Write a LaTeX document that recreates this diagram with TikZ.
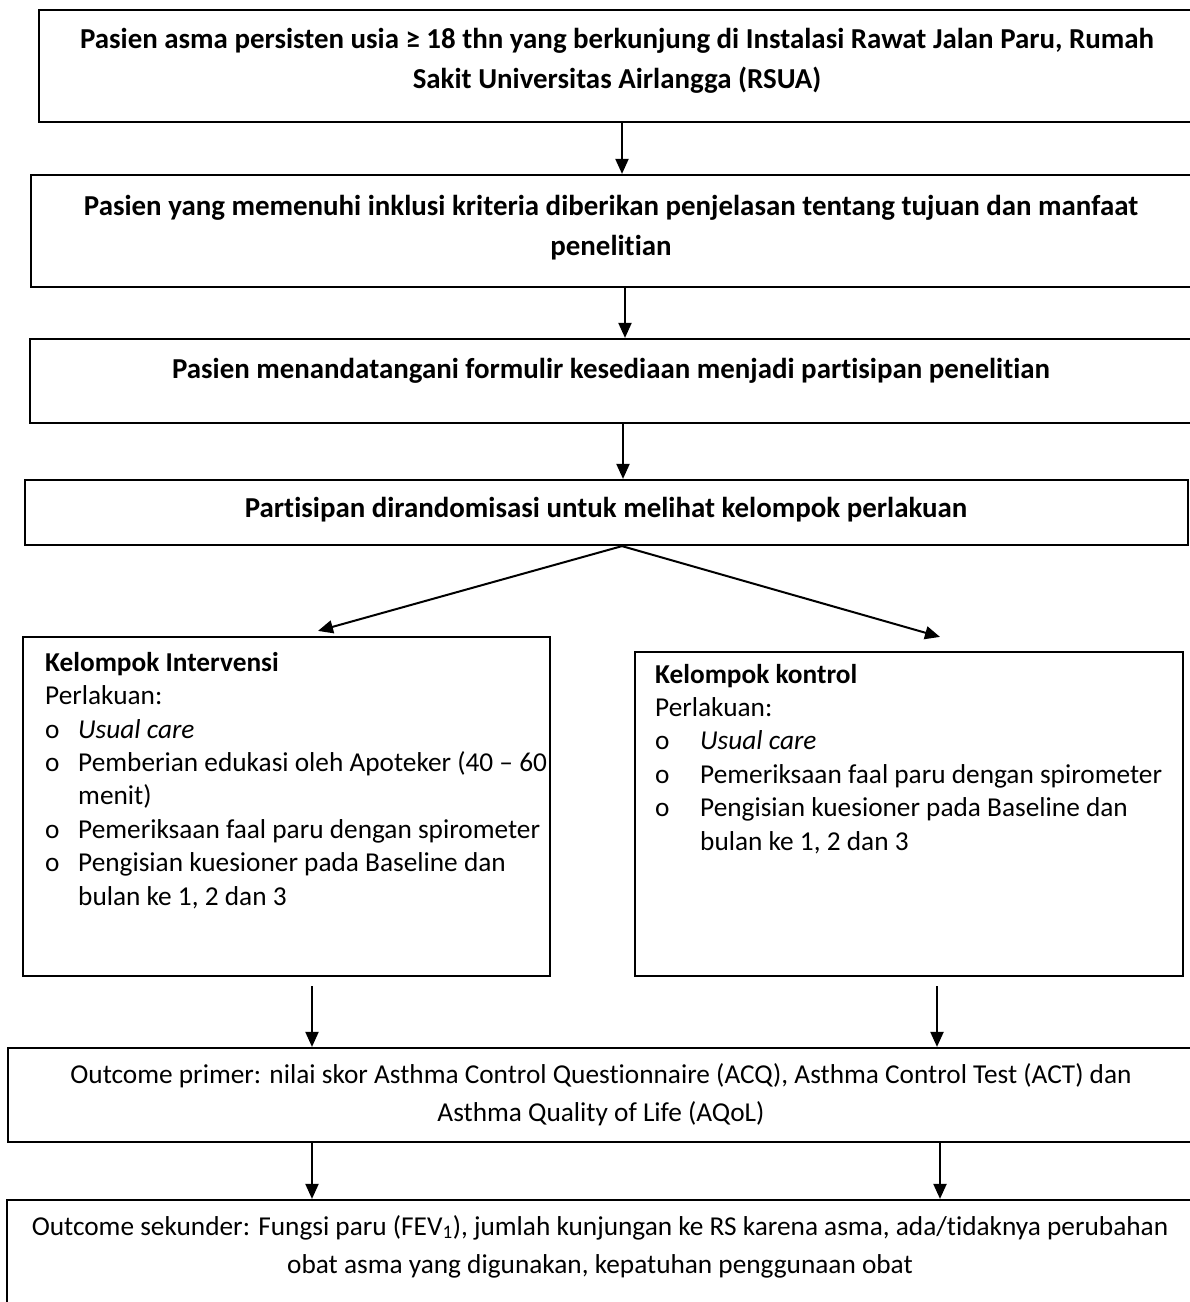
\documentclass[tikz,border=0pt]{standalone}
\usepackage{fontspec}
\setmainfont{Carlito}[Ligatures=NoCommon]
\usetikzlibrary{arrows.meta,calc}
\begin{document}
\begin{tikzpicture}[x=1pt,y=-1pt,
  box/.style={draw, line width=2.2pt, inner sep=0pt},
  arr/.style={line width=2pt, -{Triangle[length=15pt,width=13pt]}},
  txt/.style={font=\fontsize{28.9}{40}\selectfont\bfseries, align=center, inner sep=0pt, anchor=base},
  txtb/.style={font=\fontsize{27.3}{38}\selectfont, align=center, inner sep=0pt, anchor=base},
  lst/.style={font=\fontsize{27.3}{33.4}\selectfont, align=left, inner sep=0pt, anchor=base west}]
\useasboundingbox (0,0) rectangle (1190,1302);
\clip (0,0) rectangle (1190,1302);
\fill[white] (0,0) rectangle (1190,1302);

% boxes
\node[box, minimum width=1156pt, minimum height=112pt] (b1) at (617,66) {};
\node[box, minimum width=1160pt, minimum height=112pt] (b2) at (611,231) {};
\node[box, minimum width=1162pt, minimum height=84pt] (b3) at (611,381) {};
\node[box, minimum width=1163pt, minimum height=65pt] (b4) at (606.5,512.5) {};
\node[box, minimum width=527pt, minimum height=339pt] (bi) at (286.5,806.5) {};
\node[box, minimum width=548pt, minimum height=324pt] (bk) at (909,814) {};
\node[box, minimum width=1186pt, minimum height=94pt] (o1) at (601,1095) {};
\node[box, minimum width=1186pt, minimum height=140pt] (o2) at (600,1270) {};

% texts (anchor=base is the baseline of the last line)
\node[txt] (t1) at (617,88) {Pasien asma persisten usia ≥ 18 thn yang berkunjung di Instalasi Rawat Jalan Paru, Rumah\\Sakit Universitas Airlangga (RSUA)};
\node[txt] (t2) at (611,255) {Pasien yang memenuhi inklusi kriteria diberikan penjelasan tentang tujuan dan manfaat\\penelitian};
\node[txt] (t3) at (611,378) {Pasien menandatangani formulir kesediaan menjadi partisipan penelitian};
\node[txt] (t4) at (606,517) {Partisipan dirandomisasi untuk melihat kelompok perlakuan};

\node[lst] (ti) at (45,905) {\textbf{Kelompok Intervensi}\\
Perlakuan:\\
\makebox[33pt][l]{o}\textit{Usual care}\\
\makebox[33pt][l]{o}Pemberian edukasi oleh Apoteker (40 – 60\\
\hspace*{33pt}menit)\\
\makebox[33pt][l]{o}Pemeriksaan faal paru dengan spirometer\\
\makebox[33pt][l]{o}Pengisian kuesioner pada Baseline dan\\
\hspace*{33pt}bulan ke 1, 2 dan 3};

\node[lst] (tk) at (655,850) {\textbf{Kelompok kontrol}\\
Perlakuan:\\
\makebox[45pt][l]{o}\textit{Usual care}\\
\makebox[45pt][l]{o}Pemeriksaan faal paru dengan spirometer\\
\makebox[45pt][l]{o}Pengisian kuesioner pada Baseline dan\\
\hspace*{45pt}bulan ke 1, 2 dan 3};

\node[txtb] (to1) at (601,1121) {Outcome primer: nilai skor Asthma Control Questionnaire (ACQ), Asthma Control Test (ACT) dan\\Asthma Quality of Life (AQoL)};
\node[txtb] (to2) at (600,1273) {Outcome sekunder: Fungsi paru (FEV\textsubscript{1}), jumlah kunjungan ke RS karena asma, ada/tidaknya perubahan\\obat asma yang digunakan, kepatuhan penggunaan obat};

% connectors
\draw[arr] ([xshift=5pt]b1.south) -- ([xshift=5pt]b1.south |- b2.north);
\draw[arr] ([xshift=14pt]b2.south) -- ([xshift=14pt]b2.south |- b3.north);
\draw[arr] ([xshift=12pt]b3.south) -- ([xshift=12pt]b3.south |- b4.north);
\draw[arr] ([xshift=15.5pt]b4.south) -- ([xshift=31.5pt,yshift=5pt]bi.north);
\draw[arr] ([xshift=15.5pt]b4.south) -- ([xshift=31pt,yshift=14pt]bk.north);
\draw[arr, shorten <=9pt] ([xshift=25.5pt]bi.south) -- ([xshift=25.5pt]bi.south |- o1.north);
\draw[arr, shorten <=9pt] ([xshift=28pt]bk.south) -- ([xshift=28pt]bk.south |- o1.north);
\draw[arr] ([xshift=-289pt]o1.south) -- ([xshift=-289pt]o1.south |- o2.north);
\draw[arr] ([xshift=339pt]o1.south) -- ([xshift=339pt]o1.south |- o2.north);
\end{tikzpicture}
\end{document}
